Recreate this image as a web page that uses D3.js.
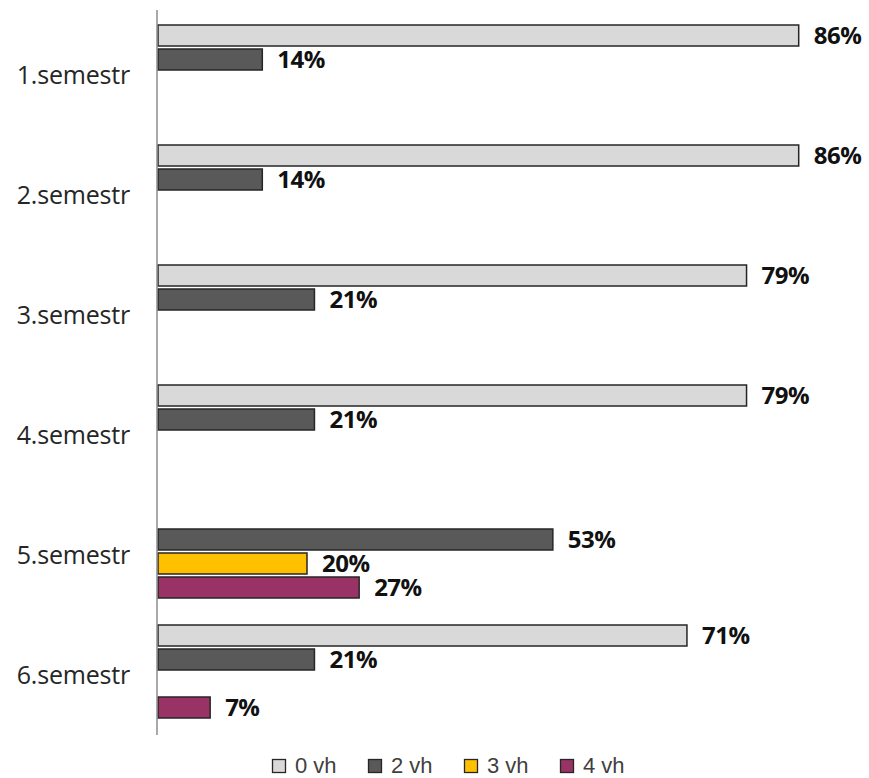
<!DOCTYPE html>
<html>
<head>
<meta charset="utf-8">
<script src="https://cdn.jsdelivr.net/npm/d3@7/dist/d3.min.js"></script>
<style>
  html, body { margin: 0; padding: 0; background: #fff; }
  svg { display: block; }
</style>
</head>
<body>
<svg id="chart" width="869" height="778"></svg>
<script>
// Semesters and the share of students in each group
const categories = ["1.semestr", "2.semestr", "3.semestr", "4.semestr", "5.semestr", "6.semestr"];
const seriesNames = ["0 vh", "2 vh", "3 vh", "4 vh"];
const seriesColors = ["#d9d9d9", "#595959", "#ffc000", "#993366"];
const values0vh = [86, 86, 79, 79, 0, 71];
const values2vh = [14, 14, 21, 21, 53, 21];
const values3vh = [0, 0, 0, 0, 20, 0];
const values4vh = [0, 0, 0, 0, 27, 7];

const seriesValues = [values0vh, values2vh, values3vh, values4vh];

const svg = d3.select("#chart");

const x = d3.scaleLinear().domain([0, 100]).range([158, 903]);
const y = d3.scaleBand().domain(categories).range([13, 733]).paddingInner(0).paddingOuter(0);
const slot = d3.scaleBand().domain(seriesNames).range([12, 108]);

// bars
categories.forEach((cat, ci) => {
  seriesNames.forEach((s, si) => {
    const v = seriesValues[si][ci];
    if (!v) return;
    const y0 = y(cat) + slot(s);
    const h = slot.bandwidth() - 3;
    svg.append("rect")
      .attr("x", x(0))
      .attr("y", y0)
      .attr("width", x(v) - x(0))
      .attr("height", h)
      .attr("fill", seriesColors[si])
      .attr("stroke", "#262626")
      .attr("stroke-width", 1.5);
    svg.append("text")
      .attr("x", x(v) + 15)
      .attr("y", y0 + h / 2)
      .attr("dy", "0.36em")
      .attr("font-family", "'Open Sans', sans-serif")
      .attr("font-weight", "bold")
      .attr("font-size", 24)
      .attr("letter-spacing", -0.5)
      .attr("fill", "#111")
      .text(v + "%");
  });
});

// vertical category axis
const axis = d3.axisLeft(y).tickSize(0).tickPadding(27);
const gAxis = svg.append("g").attr("transform", `translate(${x(0) - 1},0)`).call(axis);
gAxis.select(".domain").attr("stroke", "#8c8c8c").attr("stroke-width", 1.5)
  .attr("d", `M0,10V735`);
gAxis.selectAll("text")
  .attr("font-family", "'Open Sans', sans-serif")
  .attr("font-size", 25)
  .attr("letter-spacing", -0.2)
  .attr("fill", "#262626")
  .attr("dy", "0.42em");

// legend
const legend = svg.append("g").attr("transform", "translate(272,759)");
seriesNames.forEach((s, i) => {
  const g = legend.append("g").attr("transform", `translate(${i * 96},0)`);
  g.append("rect").attr("x", 0.5).attr("y", 0.5).attr("width", 13).attr("height", 13)
    .attr("fill", seriesColors[i]).attr("stroke", "#262626").attr("stroke-width", 1.3);
  g.append("text").attr("x", 23).attr("y", 14)
    .attr("font-family", "'Liberation Sans', Arial, sans-serif")
    .attr("font-size", 22).attr("fill", "#404040").text(s);
});
</script>
</body>
</html>
